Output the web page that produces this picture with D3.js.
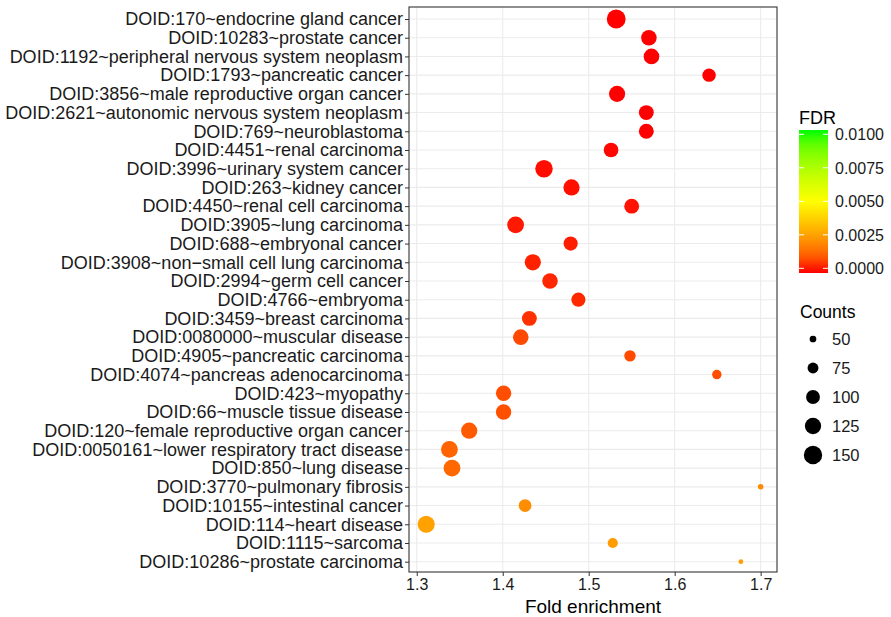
<!DOCTYPE html>
<html>
<head>
<meta charset="utf-8">
<script src="https://cdn.jsdelivr.net/npm/d3@7/dist/d3.min.js"></script>
<style>
  html, body { margin: 0; padding: 0; background: #fff; }
  svg { display: block; font-family: "Liberation Sans", Arial, Helvetica, sans-serif; }
</style>
</head>
<body>
<svg id="chart" width="891" height="617"></svg>
<script>
// Disease ontology terms, top to bottom
const terms = [
  "DOID:170~endocrine gland cancer",
  "DOID:10283~prostate cancer",
  "DOID:1192~peripheral nervous system neoplasm",
  "DOID:1793~pancreatic cancer",
  "DOID:3856~male reproductive organ cancer",
  "DOID:2621~autonomic nervous system neoplasm",
  "DOID:769~neuroblastoma",
  "DOID:4451~renal carcinoma",
  "DOID:3996~urinary system cancer",
  "DOID:263~kidney cancer",
  "DOID:4450~renal cell carcinoma",
  "DOID:3905~lung carcinoma",
  "DOID:688~embryonal cancer",
  "DOID:3908~non\u2212small cell lung carcinoma",
  "DOID:2994~germ cell cancer",
  "DOID:4766~embryoma",
  "DOID:3459~breast carcinoma",
  "DOID:0080000~muscular disease",
  "DOID:4905~pancreatic carcinoma",
  "DOID:4074~pancreas adenocarcinoma",
  "DOID:423~myopathy",
  "DOID:66~muscle tissue disease",
  "DOID:120~female reproductive organ cancer",
  "DOID:0050161~lower respiratory tract disease",
  "DOID:850~lung disease",
  "DOID:3770~pulmonary fibrosis",
  "DOID:10155~intestinal cancer",
  "DOID:114~heart disease",
  "DOID:1115~sarcoma",
  "DOID:10286~prostate carcinoma"
];
const foldEnrichment = [
  1.532, 1.570, 1.573, 1.640, 1.533, 1.567, 1.567, 1.526, 1.448, 1.480,
  1.550, 1.415, 1.479, 1.435, 1.455, 1.488, 1.431, 1.421, 1.548, 1.649,
  1.401, 1.401, 1.361, 1.338, 1.341, 1.700, 1.426, 1.311, 1.528, 1.677
];
const counts = [
  155, 117, 118, 96, 124, 110, 110, 108, 139, 124,
  110, 131, 103, 124, 117, 103, 110, 117, 79, 65,
  115, 115, 124, 131, 131, 45, 90, 134, 70, 42
];
const fdr = [
  0.00000, 0.00000, 0.00000, 0.00000, 0.00000, 0.00000, 0.00000, 0.00002, 0.00004, 0.00005,
  0.00006, 0.00010, 0.00012, 0.00015, 0.00020, 0.00022, 0.00030, 0.00060, 0.00065, 0.00070,
  0.00070, 0.00072, 0.00090, 0.00110, 0.00115, 0.00190, 0.00200, 0.00250, 0.00235, 0.00240
];
const xTicks = [1.3, 1.4, 1.5, 1.6, 1.7];
const fdrTicks = [0.0000, 0.0025, 0.0050, 0.0075, 0.0100];
const countTicks = [50, 75, 100, 125, 150];

const svg = d3.select("#chart");
const panel = { left: 409, right: 777, top: 7, bottom: 572 };

const x = d3.scaleLinear().domain([1.291, 1.719]).range([panel.left, panel.right]);
const y = d3.scalePoint().domain(terms).range([19, 561.7]);

// size scale: area proportional to count
const areaScale = d3.scaleLinear().domain([40, 160]).range([4, 92]);
const radius = c => Math.sqrt(Math.max(areaScale(c), 1));

const color = d3.scaleLinear()
  .domain([0, 0.005, 0.01])
  .range(["#ff0000", "#ffff00", "#00ff00"])
  .interpolate(d3.interpolateLab)
  .clamp(true);

// panel background and grid
svg.append("rect")
  .attr("x", panel.left).attr("y", panel.top)
  .attr("width", panel.right - panel.left).attr("height", panel.bottom - panel.top)
  .attr("fill", "#fff");

const grid = svg.append("g");
grid.selectAll("line.v").data(xTicks).join("line")
  .attr("x1", d => x(d)).attr("x2", d => x(d))
  .attr("y1", panel.top).attr("y2", panel.bottom)
  .attr("stroke", "#ebebeb").attr("stroke-width", 1.1);
grid.selectAll("line.h").data(terms).join("line")
  .attr("x1", panel.left).attr("x2", panel.right)
  .attr("y1", d => y(d)).attr("y2", d => y(d))
  .attr("stroke", "#ebebeb").attr("stroke-width", 1.1);

// points
const rows = terms.map((t, i) => ({ term: t, fe: foldEnrichment[i], n: counts[i], fdr: fdr[i] }));
svg.append("g").selectAll("circle").data(rows).join("circle")
  .attr("cx", d => x(d.fe))
  .attr("cy", d => y(d.term))
  .attr("r", d => radius(d.n))
  .attr("fill", d => color(d.fdr));

// panel border
svg.append("rect")
  .attr("x", panel.left).attr("y", panel.top)
  .attr("width", panel.right - panel.left).attr("height", panel.bottom - panel.top)
  .attr("fill", "none").attr("stroke", "#333").attr("stroke-width", 1.1);

// axes
const xAxis = svg.append("g")
  .attr("transform", `translate(0,${panel.bottom})`)
  .call(d3.axisBottom(x).tickValues(xTicks).tickFormat(d3.format(".1f")).tickSize(4).tickPadding(3));
xAxis.select(".domain").remove();
xAxis.selectAll("line").attr("stroke", "#333");
xAxis.selectAll("text").attr("fill", "#1a1a1a").style("font-size", "16px");

const yAxis = svg.append("g")
  .attr("transform", `translate(${panel.left},0)`)
  .call(d3.axisLeft(y).tickSize(4).tickPadding(2));
yAxis.select(".domain").remove();
yAxis.selectAll("line").attr("stroke", "#333");
yAxis.selectAll("text").attr("fill", "#1a1a1a").style("font-size", "18px");

svg.append("text")
  .attr("x", (panel.left + panel.right) / 2).attr("y", 613)
  .attr("text-anchor", "middle")
  .attr("fill", "#000")
  .style("font-size", "19px")
  .text("Fold enrichment");

// FDR colour bar
const bar = { x: 799, w: 29, top: 130, bottom: 273 };
const fdrY = d3.scaleLinear().domain([0, 0.01]).range([268.3, 134.3]);
const defs = svg.append("defs");
const grad = defs.append("linearGradient").attr("id", "fdrGrad")
  .attr("x1", 0).attr("x2", 0).attr("y1", 1).attr("y2", 0);
d3.range(0, 21).forEach(i => {
  const v = fdrY.invert(bar.bottom + (bar.top - bar.bottom) * i / 20);
  grad.append("stop").attr("offset", `${i * 5}%`).attr("stop-color", color(v));
});
svg.append("text").attr("x", bar.x).attr("y", 124)
  .style("font-size", "18px").attr("fill", "#000").text("FDR");
svg.append("rect").attr("x", bar.x).attr("y", bar.top)
  .attr("width", bar.w).attr("height", bar.bottom - bar.top)
  .attr("fill", "url(#fdrGrad)");
const cbTicks = svg.append("g");
fdrTicks.forEach(v => {
  cbTicks.append("line").attr("x1", bar.x).attr("x2", bar.x + 5)
    .attr("y1", fdrY(v)).attr("y2", fdrY(v)).attr("stroke", "#fff").attr("stroke-width", 1);
  cbTicks.append("line").attr("x1", bar.x + bar.w - 5).attr("x2", bar.x + bar.w)
    .attr("y1", fdrY(v)).attr("y2", fdrY(v)).attr("stroke", "#fff").attr("stroke-width", 1);
  cbTicks.append("text").attr("x", 835).attr("y", fdrY(v)).attr("dy", "0.36em")
    .style("font-size", "16px").attr("fill", "#1a1a1a").text(d3.format(".4f")(v));
});

// Counts size legend
svg.append("text").attr("x", 800).attr("y", 318)
  .style("font-size", "17.5px").attr("fill", "#000").text("Counts");
const sizeLegY = d3.scalePoint().domain(countTicks).range([339, 455]);
const sizeLeg = svg.append("g");
sizeLeg.selectAll("circle").data(countTicks).join("circle")
  .attr("cx", 813).attr("cy", d => sizeLegY(d)).attr("r", d => radius(d)).attr("fill", "#000");
sizeLeg.selectAll("text").data(countTicks).join("text")
  .attr("x", 832).attr("y", d => sizeLegY(d)).attr("dy", "0.36em")
  .style("font-size", "16.5px").attr("fill", "#1a1a1a").text(d => d);
</script>
</body>
</html>
